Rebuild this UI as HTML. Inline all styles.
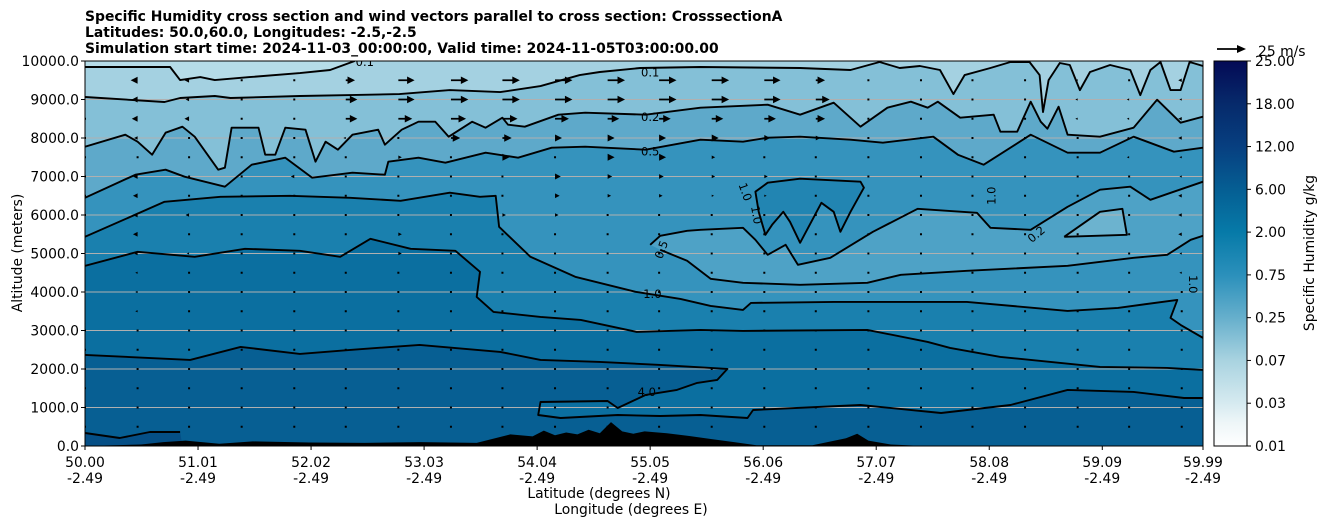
<!DOCTYPE html>
<html><head><meta charset="utf-8"><style>
html,body{margin:0;padding:0;background:#fff;}
svg{display:block;font-family:"DejaVu Sans","Liberation Sans",sans-serif;}
</style></head><body>
<svg id="chart" width="1326" height="526" viewBox="0 0 1326 526" xmlns="http://www.w3.org/2000/svg">
<defs>
<clipPath id="plotclip"><rect x="85" y="61" width="1118" height="385"/></clipPath>
<linearGradient id="cbgrad" x1="0" y1="1" x2="0" y2="0">
<stop offset="0" stop-color="#ffffff"/><stop offset="0.06" stop-color="#eef6f8"/>
<stop offset="0.111" stop-color="#d6eaf0"/><stop offset="0.222" stop-color="#a9d3e0"/>
<stop offset="0.333" stop-color="#66afcc"/><stop offset="0.444" stop-color="#2b90bb"/>
<stop offset="0.556" stop-color="#067aa8"/><stop offset="0.667" stop-color="#055e93"/>
<stop offset="0.778" stop-color="#073f80"/><stop offset="0.889" stop-color="#062a6b"/>
<stop offset="1" stop-color="#040a55"/></linearGradient>
</defs>
<g font-weight="bold" font-size="13.9" fill="#000">
<text x="85" y="21">Specific Humidity cross section and wind vectors parallel to cross section: CrosssectionA</text>
<text x="85" y="37">Latitudes: 50.0,60.0, Longitudes: -2.5,-2.5</text>
<text x="85" y="53">Simulation start time: 2024-11-03_00:00:00, Valid time: 2024-11-05T03:00:00.00</text>
</g>
<g id="plot" clip-path="url(#plotclip)"></g>
<rect x="85" y="61" width="1118" height="385" fill="none" stroke="#000" stroke-width="1"/>
<g id="axes"></g>
<rect x="1214" y="61" width="33" height="385" fill="url(#cbgrad)" stroke="#000" stroke-width="1"/>
<g id="cbaxis"></g>
<text transform="translate(1314,253) rotate(-90)" text-anchor="middle" font-size="13.9">Specific Humidity g/kg</text>
<text transform="translate(22,253) rotate(-90)" text-anchor="middle" font-size="13.9">Altitude (meters)</text>
<text x="599" y="498" text-anchor="middle" font-size="13.9">Latitude (degrees N)</text>
<text x="631" y="514" text-anchor="middle" font-size="13.9">Longitude (degrees E)</text>
<g>
<line x1="1217" y1="49" x2="1239" y2="49" stroke="#000" stroke-width="1.8"/>
<polygon points="1246,49 1237,45 1237,53" fill="#000"/>
<text x="1258" y="56" font-size="13.9">25 m/s</text>
</g>
</svg>
<script>
const NS="http://www.w3.org/2000/svg";
// ---- data ----
const xTickLats=[50.00,51.01,52.02,53.03,54.04,55.05,56.06,57.07,58.08,59.09,59.99];
const xTickLons=["-2.49","-2.49","-2.49","-2.49","-2.49","-2.49","-2.49","-2.49","-2.49","-2.49","-2.49"];
const yTicks=[0,1000,2000,3000,4000,5000,6000,7000,8000,9000,10000];
const cbTicks=["0.01","0.03","0.07","0.25","0.75","2.00","6.00","12.00","18.00","25.00"];
const contourTop01=[[50,9843],[50.76,9843],[50.85,9505],[51.03,9583],[51.16,9505],[51.47,9583],[51.92,9687],[52.19,9765],[52.41,10000]];
const contour01=[[50,9064],[50.71,8934],[50.85,9038],[51.16,9090],[51.30,9038],[51.92,9090],[52.37,9115],[52.81,9141],[53.26,9245],[53.71,9193],[54.07,9349],[54.42,9635],[54.60,9713],[54.96,9817],[55.50,9843],[56.39,9817],[56.84,9765],[57.10,9973],[57.28,9817],[57.46,9869],[57.64,9765],[57.76,9140],[57.86,9635],[58.09,9817],[58.27,9973],[58.44,9973],[58.53,9635],[58.56,8674],[58.61,9505],[58.71,9947],[58.80,9895],[58.89,9245],[58.98,9713],[59.16,9895],[59.34,9765],[59.43,9115],[59.52,9765],[59.61,9973],[59.70,9245],[59.79,9245],[59.87,9973],[59.99,9869]];
const contour02=[[50,7774],[50.36,8086],[50.47,7904],[50.60,7566],[50.72,8138],[50.87,8294],[50.98,8034],[51.19,7176],[51.25,7228],[51.31,8268],[51.55,8268],[51.61,7566],[51.70,7566],[51.79,8268],[51.97,8216],[52.06,7384],[52.15,7904],[52.26,7696],[52.39,8086],[52.62,8216],[52.68,7826],[52.83,8216],[52.98,8424],[53.13,8424],[53.25,8034],[53.46,8424],[53.58,8268],[53.73,8528],[53.78,8346],[53.93,8294],[54.23,8606],[54.47,8658],[55.01,8606],[55.50,8788],[56.10,8866],[56.39,8606],[56.69,8918],[56.93,8294],[57.17,8788],[57.38,8944],[57.53,8788],[57.62,8944],[57.82,8528],[58.12,8606],[58.18,8164],[58.33,8164],[58.45,8944],[58.54,8424],[58.60,8242],[58.70,8814],[58.78,8086],[59.07,8034],[59.37,8268],[59.58,8996],[59.79,8398],[59.99,8554]];
const contour05=[[50,6448],[50.45,7046],[50.72,7176],[50.89,6994],[51.25,6734],[51.49,7306],[51.79,7488],[52.03,6968],[52.39,7098],[52.68,7046],[52.71,7384],[52.98,7488],[53.22,7358],[53.58,7618],[53.87,7488],[54.17,7748],[54.47,7774],[55.01,7696],[55.50,7956],[55.88,7904],[56.10,8008],[56.39,8034],[56.84,7956],[57.13,7878],[57.58,8034],[57.80,7566],[58.03,7306],[58.45,8086],[58.78,7618],[59.07,7618],[59.37,8034],[59.61,7774],[59.73,7644],[59.99,7748]];
const tongueUpper=[[55.05,5226],[55.14,5460],[55.38,5590],[55.50,5616],[55.88,5668],[55.99,5356],[56.10,4966],[56.26,5226],[56.37,4706],[56.66,4888],[57.04,5564],[57.44,6162],[57.97,6058],[58.09,5668],[58.45,5616],[58.78,6214],[59.07,6656],[59.34,6734],[59.52,6396],[59.73,6604],[59.99,6864]];
const tongueLower=[[59.99,5460],[59.88,5356],[59.67,4966],[59.37,4888],[58.78,4680],[57.88,4550],[57.29,4446],[56.99,4238],[56.39,4186],[55.88,4238],[55.59,4342],[55.38,4810],[55.14,5096]];
const loop02=[[58.75,5434],[59.07,6084],[59.27,6162],[59.31,5486],[58.75,5434]];
const loop10=[[56.02,6084],[55.99,6604],[56.10,6838],[56.39,6942],[56.93,6864],[56.96,6708],[56.84,6084],[56.75,5564],[56.69,6084],[56.58,6318],[56.49,5824],[56.39,5278],[56.30,5824],[56.24,6084],[56.14,5746],[56.08,5486],[56.02,6084]];
const contour10=[[50,5434],[50.71,6344],[51.21,6474],[51.83,6500],[52.37,6448],[52.82,6370],[53.26,6578],[53.53,6474],[53.67,6500],[53.70,5694],[53.98,4914],[54.38,4394],[54.92,4004],[55.32,3822],[55.59,3640],[55.88,3536],[55.95,3718],[56.69,3744],[57.88,3744],[58.78,3510],[59.23,3588],[59.76,3796],[59.70,3328],[59.79,3146],[59.99,2808]];
const contour20=[[50,4680],[50.47,5044],[50.98,4914],[51.43,5122],[51.92,5070],[52.28,4914],[52.55,5382],[52.91,5122],[53.31,5070],[53.53,4524],[53.50,3874],[53.65,3484],[54.07,3354],[54.43,3276],[54.93,2964],[55.50,3016],[55.88,2990],[56.99,3016],[57.53,2704],[57.73,2548],[58.18,2314],[59.07,2054],[59.67,2028],[59.99,1976]];
const contour40=[[50,2366],[50.94,2236],[51.39,2574],[51.92,2392],[52.37,2496],[52.99,2626],[53.71,2444],[54.07,2236],[54.60,2184],[55.14,2106],[55.74,2002],[55.65,1716],[55.47,1638],[55.29,1456],[55.01,1326],[54.76,988],[54.67,1170],[54.07,1144],[54.05,806],[54.25,728],[54.76,806],[55.14,780],[55.50,806],[55.92,728],[55.97,936],[56.93,1066],[57.65,858],[58.27,1066],[58.78,1456],[59.37,1404],[59.82,1248],[59.99,1248]];
const contour80=[[50,338],[50.31,208],[50.58,364],[50.85,364],[50.87,0],[50,0]];
const terrainLat=[50.0,50.5,50.7,50.9,51.2,51.5,52.0,52.5,53.0,53.5,53.8,54.0,54.1,54.2,54.3,54.4,54.5,54.6,54.7,54.8,54.9,55.0,55.2,55.4,55.6,55.8,56.0,56.5,56.8,56.9,57.0,57.2,57.5,59.99];
const terrainAlt=[0,40,100,140,60,120,90,80,100,80,300,250,400,280,350,300,420,330,620,380,320,380,330,260,180,100,20,20,200,320,140,40,0,0];
const windLats=[50.00,50.47,50.93,51.40,51.87,52.33,52.80,53.27,53.73,54.20,54.67,55.13,55.60,56.07,56.53,57.00,57.47,57.93,58.40,58.87,59.33,59.80];
const windAlts=[9500,9000,8500,8000,7500,7000,6500,6000,5500,5000,4500,4000,3500,3000,2500,2000,1500,1000,500];
const windU=[
[-5,-6,-4,0,0,8,14,15,15,15,15,15,15,14,8,1,0,0,-1,-2,-1,-3],
[-6,-5,-3,0,0,10,14,15,15,15,15,15,15,14,12,0,0,0,-1,-2,-2,-2],
[-1,-5,-4,0,0,10,12,13,13,12,10,10,10,10,8,1,0,0,-1,-2,-2,-3],
[0,-3,0,0,0,-2,0,8,8,6,6,6,6,5,4,0,0,0,0,-1,-2,-3],
[0,0,0,0,0,0,3,0,6,0,6,6,3,0,0,0,0,0,0,0,-2,-2],
[0,-4,0,0,-3,0,0,0,0,5,4,4,3,3,0,0,0,0,0,0,0,-2],
[0,-4,0,0,0,0,0,0,0,4,3,3,2,2,0,0,0,0,0,0,0,-3],
[0,-4,-3,0,0,0,0,0,3,3,0,0,0,0,0,0,0,0,0,0,0,-3],
[-2,-4,0,0,-1,0,3,0,0,0,0,0,0,0,0,0,0,0,0,0,0,-3],
[-2,-3,-2,0,0,0,3,0,0,0,0,0,0,0,0,0,0,0,0,0,0,-2],
[-2,-2,0,0,0,0,0,0,0,0,0,0,0,0,0,0,0,0,0,0,0,-2],
[-2,-2,0,0,0,0,0,0,0,0,0,0,0,0,0,0,0,0,0,0,0,-1],
[-2,-2,0,0,0,0,0,0,0,0,0,0,0,0,0,0,0,0,0,0,0,-1],
[-1,-1,0,0,0,0,0,0,0,0,0,0,0,0,0,0,0,0,0,0,0,0],
[0,0,0,0,0,0,0,0,0,0,0,0,0,0,0,0,0,0,0,0,0,0],
[0,0,0,0,0,0,0,0,0,0,0,0,0,0,0,0,0,0,0,0,0,0],
[0,0,0,0,0,0,0,0,0,0,0,0,0,0,0,0,0,0,0,0,0,0],
[0,0,0,0,0,0,0,0,0,0,0,0,0,0,0,0,0,0,0,0,0,0],
[0,0,0,0,0,0,0,0,0,0,0,0,0,0,0,0,0,0,0,0,0,0]];
// ---- scales ----
const X0=85,X1=1203,Y0=446,Y1=61,LAT0=50,LAT1=59.99,ALT1=10000;
function xs(lat){return X0+(lat-LAT0)/(LAT1-LAT0)*(X1-X0);}
function ys(alt){return Y0-alt/ALT1*(Y0-Y1);}
function mk(tag,attrs,parent){const e=document.createElementNS(NS,tag);for(const k in attrs)e.setAttribute(k,attrs[k]);parent.appendChild(e);return e;}
function pts(arr){return arr.map(p=>xs(p[0]).toFixed(1)+","+ys(p[1]).toFixed(1)).join(" L");}
const plot=document.getElementById('plot');
let bg=mk('rect',{x:X0,y:Y1,width:X1-X0,height:Y0-Y1,fill:'#a4d1e1'},plot);


function fillBelow(arr,color,name){
  const d="M"+xs(arr[0][0])+","+ys(0)+" L"+pts(arr)+" L"+xs(arr[arr.length-1][0])+","+ys(0)+" Z";
  const e=mk('path',{d:d,fill:color},plot);
  
  
}
function fillClosed(arr,color,name){
  const e=mk('path',{d:"M"+pts(arr)+" Z",fill:color},plot);
  
  
}
const tp=mk('path',{d:"M"+pts([[LAT0,10200]].concat(contourTop01,[[52.41,10200]]))+" Z",fill:'#b6dce8'},plot);


fillBelow(contour01,'#84c0d7','fill-0.1-0.2');
fillBelow(contour02,'#5ea9ca','fill-0.2-0.5');
fillBelow(contour05,'#3593bd','fill-0.5-1.0');
fillClosed(tongueUpper.concat(tongueLower),'#4ea2c6','fill-tongue-0.2-0.5');
fillClosed(loop02,'#6cb3cf','fill-loop-0.2');
fillClosed(loop10,'#2285b2','fill-loop-1.0');
fillBelow(contour10,'#1a80ae','fill-1.0-2.0');
fillBelow(contour20,'#0b6fa0','fill-2.0-4.0');
fillBelow(contour40,'#075f93','fill-4.0-8.0');
fillClosed(contour80,'#054f86','fill-above-8.0');
yTicks.forEach(a=>{if(a===0||a===10000)return;
  const g=mk('line',{x1:X0,x2:X1,y1:ys(a),y2:ys(a),stroke:'#b0b0b0','stroke-width':1},plot);
  
  });
function line(arr,name,closed){
  const e=mk('path',{d:"M"+pts(arr)+(closed?" Z":""),fill:'none',stroke:'#000','stroke-width':1.9,'stroke-linejoin':'round'},plot);
  
  
}
line(contourTop01,'contour-0.1-top');
line(contour01,'contour-0.1');
line(contour02,'contour-0.2');
line(contour05,'contour-0.5');
line(tongueUpper,'contour-0.5-tongue-upper');
line(tongueLower,'contour-0.5-tongue-lower');
line(loop02,'contour-0.2-loop');
line(loop10,'contour-1.0-loop');
line(contour10,'contour-1.0');
line(contour20,'contour-2.0');
line(contour40,'contour-4.0');
line(contour80.slice(0,4),'contour-8.0');
const tarr=terrainLat.map((l,i)=>[l,terrainAlt[i]]);
const ter=mk('path',{d:"M"+xs(LAT0)+","+ys(0)+" L"+pts(tarr)+" L"+xs(LAT1)+","+ys(0)+" Z",fill:'#000'},plot);


const cl=[["0.1",55.05,9700,0],["0.2",55.05,8550,0],["0.5",55.05,7650,0],["1.0",55.07,3950,0],["4.0",55.02,1400,0],["0.1",52.5,9980,0],["0.5",55.15,5100,-70],["0.2",58.5,5500,-40],["1.0",55.9,6600,70],["1.0",56.0,6000,80],["1.0",58.1,6500,-90],["1.0",59.9,4200,90]];
cl.forEach(c=>{
  const t=mk('text',{x:xs(c[1]),y:ys(c[2])+4,'text-anchor':'middle','font-size':11.5,transform:'rotate('+c[3]+' '+xs(c[1])+' '+ys(c[2])+')'},plot);
  t.textContent=c[0];
  
  
});
const SC=29/25;
windAlts.forEach((a,r)=>{windLats.forEach((l,c)=>{
  const u=windU[r][c];const x=xs(l),y=ys(a);const L=Math.abs(u)*SC;const s=u<0?-1:1;
  let e;
  if(L<1.5){e=mk('rect',{x:x-1,y:y-1,width:2,height:2,fill:'#000'},plot);}
  else{const hl=Math.min(L,7.5),hw=Math.min(1,L/7.5)*3.8;
    e=mk('path',{d:`M${x},${y-0.9} L${x+s*(L-hl)},${y-0.9} L${x+s*(L-hl)},${y-hw} L${x+s*L},${y} L${x+s*(L-hl)},${y+hw} L${x+s*(L-hl)},${y+0.9} L${x},${y+0.9} Z`,fill:'#000'},plot);}
  
  
});});
const axes=document.getElementById('axes');
yTicks.forEach(a=>{
  mk('line',{x1:81,x2:85,y1:ys(a),y2:ys(a),stroke:'#000'},axes);
  const t=mk('text',{x:79,y:ys(a)+5,'text-anchor':'end','font-size':13.9},axes);
  t.textContent=a.toFixed(1);
  
  
});
xTickLats.forEach((l,i)=>{
  mk('line',{x1:xs(l),x2:xs(l),y1:446,y2:450,stroke:'#000'},axes);
  const t=mk('text',{x:xs(l),y:467,'text-anchor':'middle','font-size':13.9},axes);
  t.textContent=l.toFixed(2);
  
  
  const t2=mk('text',{x:xs(l),y:483,'text-anchor':'middle','font-size':13.9},axes);
  t2.textContent=xTickLons[i];
  
  
});
const cba=document.getElementById('cbaxis');
cbTicks.forEach((v,i)=>{
  const y=446-i*(385/9);
  mk('line',{x1:1247,x2:1251,y1:y,y2:y,stroke:'#000'},cba);
  const t=mk('text',{x:1255,y:y+5,'font-size':13.9},cba);
  t.textContent=v;
  
  
});
</script>
</body></html>
